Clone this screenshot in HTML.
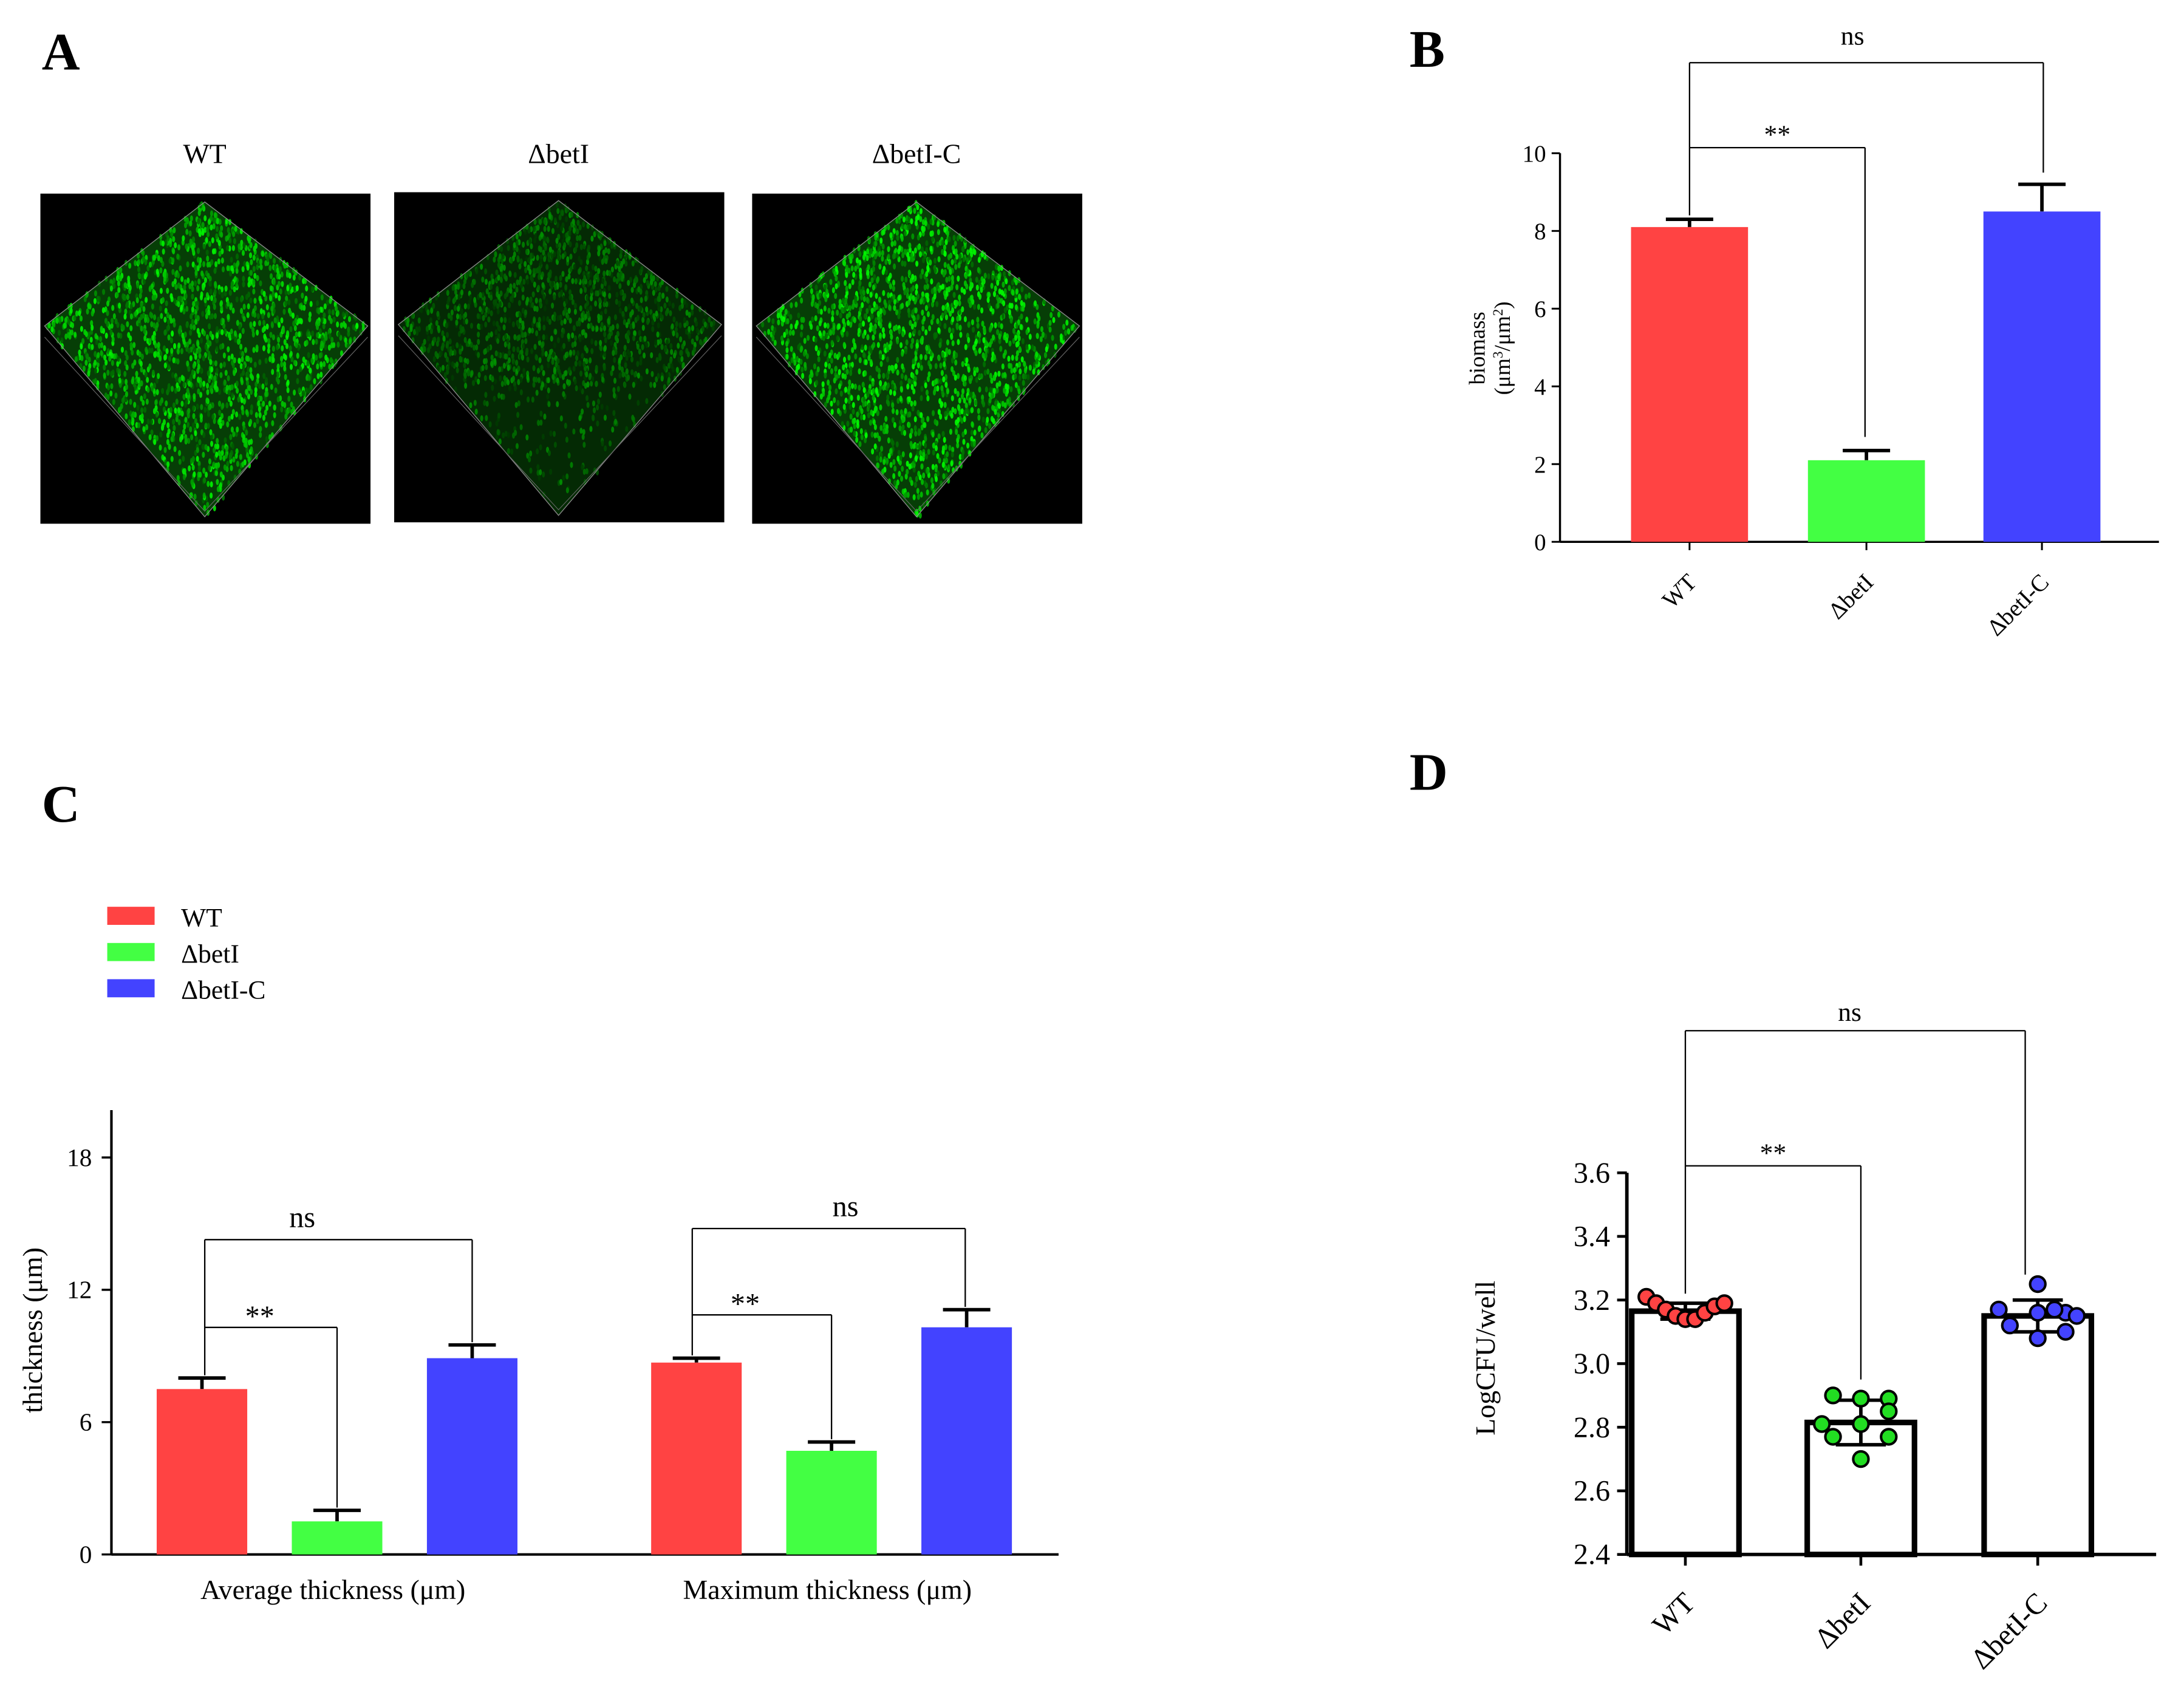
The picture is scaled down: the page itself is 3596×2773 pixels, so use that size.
<!DOCTYPE html>
<html><head><meta charset="utf-8"><style>
html,body{margin:0;padding:0;background:#fff}
svg{display:block}
text{font-family:"Liberation Serif",serif;fill:#000}
</style></head><body>
<svg id="fig" width="3596" height="2773" viewBox="0 0 1568 1209" preserveAspectRatio="none" xmlns="http://www.w3.org/2000/svg">
<rect width="1568" height="1209" fill="#fff"/>
<g id="pA"></g>
<g id="pB"></g>
<g id="pC"></g>
<g id="pD"></g>
</svg>
<script>
// ---- data ----
const groups = ["WT","\u0394betI","\u0394betI-C"];
const colors = ["#ff4343","#43ff43","#4343ff"];
const biomassMean = [8.1, 2.1, 8.5];
const biomassErr = [0.2, 0.25, 0.7];
const biomassTicks = [0,2,4,6,8,10];
const thickCats = ["Average thickness (\u03bcm)","Maximum thickness (\u03bcm)"];
const thickMean = [[7.5,1.5,8.9],[8.7,4.7,10.3]];
const thickErr = [[0.5,0.5,0.6],[0.2,0.4,0.8]];
const thickTicks = [0,6,12,18];
const cfuMean = [3.165, 2.815, 3.15];
const cfuErr = [0.025, 0.07, 0.05];
const cfuPoints = [
 [3.21,3.19,3.17,3.15,3.14,3.14,3.16,3.18,3.19],
 [2.90,2.89,2.89,2.85,2.81,2.81,2.77,2.77,2.70],
 [3.17,3.12,3.25,3.16,3.08,3.10,3.16,3.15,3.17]
];
const cfuTicks = [2.4,2.6,2.8,3.0,3.2,3.4,3.6];

const NS="http://www.w3.org/2000/svg";
function el(parent,tag,attrs,txt){const e=document.createElementNS(NS,tag);for(const k in attrs)e.setAttribute(k,attrs[k]);if(txt!==undefined)e.textContent=txt;parent.appendChild(e);return e;}
function ln(p,x1,y1,x2,y2,w,name){const e=el(p,'line',{x1,y1,x2,y2,stroke:'#000','stroke-width':w||1.3});

return e;}
function tx(p,x,y,s,size,anchor,name,extra){const e=el(p,'text',Object.assign({x,y,'font-size':size,'text-anchor':anchor||'middle'},extra||{}),s);

return e;}

// ---- Panel A ----
const A=document.getElementById('pA');
tx(A,30,50,"A",38,'start','panel-a-label',{'font-weight':'bold'});
const imgs=[[29,139],[283,138],[540,139]];
const bright=[1,0.6,1.08];
let seed=7;function rnd(){seed=(seed*16807)%2147483647;return seed/2147483647;}
imgs.forEach((p,i)=>{
  const g=el(A,'g',{});
  
  
  tx(A,p[0]+118,117,groups[i],20,'middle','image-title-'+(i+1));
  el(g,'rect',{x:p[0],y:p[1],width:237,height:237,fill:'#000'});
  const cx=p[0]+118,top=p[1]+6,bot=p[1]+232,l=p[0]+3,r=p[0]+235,mid=p[1]+95;
  const pts=`${cx},${top} ${r},${mid} ${cx},${bot} ${l},${mid}`;
  el(g,'polygon',{points:pts,fill:i==1?'#042a04':'#063e06'});
  const b=bright[i];
  for(let k=0;k<1800;k++){
    const u=rnd(),v=rnd();
    const x=cx+u*(r-cx)+v*(l-cx);
    const y=top+u*(mid-top)+v*(mid-top)+ (u*v)*0 ;
    // map into diamond: top->(r,mid)->(bot) ; use bilinear
    const yy=top+(u+v)*(bot-top)/2 + (u-v)*((mid-top)-(bot-top)/2)*0;
    const yb=top+u*(mid-top)+v*(mid-top)+u*v*(bot+top-2*mid);
    if(i==1 && yb>p[1]+140 && rnd()<0.7) continue;
    const gg=Math.floor(Math.min(255,(90+rnd()*160)*b));
    el(g,'ellipse',{cx:x,cy:yb,rx:1.1,ry:2.2,fill:`rgb(0,${gg},0)`,opacity:0.9});
  }
  el(g,'polygon',{points:pts,fill:'none',stroke:'#888','stroke-width':0.6});
  el(g,'polyline',{points:`${l},${mid+8} ${cx},${bot-4} ${r},${mid+8}`,fill:'none',stroke:'#666','stroke-width':0.5});
});

// ---- Panel B ----
const B=document.getElementById('pB');
tx(B,1012,48,"B",38,'start','panel-b-label',{'font-weight':'bold'});
const bx0=1120,by0=389,by1=110;const bY=v=>by0-(by0-by1)*v/10;
const bCenters=[1213,1340,1466],bw=84;
ln(B,bx0,by0,1550,by0,1.5,'x-axis');ln(B,bx0,by1,bx0,by0,1.5,'y-axis');
biomassTicks.forEach(v=>{ln(B,bx0-6,bY(v),bx0,bY(v),1.3,'y-tick');tx(B,bx0-10,bY(v)+6,String(v),17,'end','y-tick-label');});
biomassMean.forEach((m,i)=>{
  const c=bCenters[i];
  ln(B,c,bY(m),c,bY(m+biomassErr[i]),2.5,'error-bar');ln(B,c-17,bY(m+biomassErr[i]),c+17,bY(m+biomassErr[i]),2.5,'error-cap');
  const r=el(B,'rect',{x:c-bw/2,y:bY(m),width:bw,height:by0-bY(m),fill:colors[i]});
  
  
  ln(B,c,by0,c,by0+6,1.3,'x-tick');
  tx(B,c+6,by0+30,groups[i],17,'end','x-tick-label',{transform:`rotate(-45 ${c+6} ${by0+30})`});
});
ln(B,1213,45,1467,45,1,'bracket-ns');ln(B,1213,45,1213,bY(8.4),1,'bracket-ns');ln(B,1467,45,1467,bY(9.5),1,'bracket-ns');
tx(B,1330,32,"ns",19,'middle','sig-ns');
ln(B,1213,106,1339,106,1,'bracket-star');ln(B,1339,106,1339,bY(2.7),1,'bracket-star');
tx(B,1276,103,"**",19,'middle','sig-star');
let t=tx(B,1066,250,"",16,'middle','y-axis-title',{transform:'rotate(-90 1066 250)'});
el(t,'tspan',{x:1066,y:250},'biomass');
const t2=el(t,'tspan',{x:1066,dy:18},'(\u03bcm');el(t2,'tspan',{'baseline-shift':'super','font-size':10},'3');
t2.appendChild(document.createTextNode('/\u03bcm'));el(t2,'tspan',{'baseline-shift':'super','font-size':10},'2');
t2.appendChild(document.createTextNode(')'));

// ---- Panel C ----
const C=document.getElementById('pC');
tx(C,30,590,"C",38,'start','panel-c-label',{'font-weight':'bold'});
groups.forEach((g,i)=>{
  const r=el(C,'rect',{x:77,y:651+i*26,width:34,height:13,fill:colors[i]});
  
  
  tx(C,130,665+i*26,g,19,'start','legend-entry-'+(i+1));
});
const cx0=80,cy0=1116,cy18=831;const cY=v=>cy0-(cy0-cy18)*v/18;
ln(C,cx0,cy0,760,cy0,1.8,'x-axis');ln(C,cx0,797,cx0,cy0,1.8,'y-axis');
thickTicks.forEach(v=>{ln(C,cx0-7,cY(v),cx0,cY(v),1.5,'y-tick');tx(C,cx0-14,cY(v)+6,String(v),18,'end','y-tick-label');});
const cCent=[[145,242,339],[500,597,694]],cw=65;
thickMean.forEach((grp,gi)=>{
  grp.forEach((m,i)=>{
    const c=cCent[gi][i],e=m+thickErr[gi][i];
    ln(C,c,cY(m),c,cY(e),2.5,'error-bar');ln(C,c-17,cY(e),c+17,cY(e),2.5,'error-cap');
    const r=el(C,'rect',{x:c-cw/2,y:cY(m),width:cw,height:cy0-cY(m),fill:colors[i]});
    
    
  });
  tx(C,cCent[gi][1]-3,1148,thickCats[gi],20,'middle','x-category-label');
});
[[890,953,147,339,242],[882,944,497,693,597]].forEach((b,gi)=>{
  const m=thickMean[gi],e=thickErr[gi];
  ln(C,b[2],b[0],b[3],b[0],1,'bracket-ns');ln(C,b[2],b[0],b[2],cY(m[0]+e[0])-2,1,'bracket-ns');ln(C,b[3],b[0],b[3],cY(m[2]+e[2])-2,1,'bracket-ns');
  tx(C,(b[2]+b[3])/2+(gi?12:-26),b[0]-9,"ns",21,'middle','sig-ns');
  ln(C,b[2],b[1],b[4],b[1],1,'bracket-star');ln(C,b[4],b[1],b[4],cY(m[1]+e[1])-2,1,'bracket-star');
  tx(C,(b[2]+b[4])/2-(gi?12:8),b[1]-1,"**",21,'middle','sig-star');
});
tx(C,30,955,"thickness (\u03bcm)",20,'middle','y-axis-title',{transform:'rotate(-90 30 955)'});

// ---- Panel D ----
const D=document.getElementById('pD');
tx(D,1012,567,"D",38,'start','panel-d-label',{'font-weight':'bold'});
const dx0=1168,dy0=1116,dy1=842;const dY=v=>dy0-(dy0-dy1)*(v-2.4)/1.2;
ln(D,dx0,dy0,1548,dy0,2.5,'x-axis');ln(D,dx0,dy1,dx0,dy0,2.5,'y-axis');
cfuTicks.forEach(v=>{ln(D,dx0-7,dY(v),dx0,dY(v),2,'y-tick');tx(D,dx0-12,dY(v)+7,v.toFixed(1),21,'end','y-tick-label');});
const dCent=[1210,1336,1463],dw=77;
const offs=[-28,-21,-14,-7,0,7,14,21,28];
cfuMean.forEach((m,i)=>{
  const c=dCent[i];
  const r=el(D,'rect',{x:c-dw/2,y:dY(m),width:dw,height:dy0-dY(m),fill:'#fff',stroke:'#000','stroke-width':4});
  
  
  ln(D,c,dY(m-cfuErr[i]),c,dY(m+cfuErr[i]),2.5,'error-bar');
  ln(D,c-18,dY(m+cfuErr[i]),c+18,dY(m+cfuErr[i]),2.5,'error-cap');
  ln(D,c-18,dY(m-cfuErr[i]),c+18,dY(m-cfuErr[i]),2.5,'error-cap');
  cfuPoints[i].forEach((v,k)=>{
    const xo=i==0?offs[k]:(i==1?[-20,0,20,20,-28,0,-20,20,0][k]:[-28,-20,0,0,0,20,20,28,12][k]);
    const p=el(D,'circle',{cx:c+xo,cy:dY(v),r:5.5,fill:i==1?'#22dd22':colors[i],stroke:'#000','stroke-width':1.8});
    
    
  });
  ln(D,c,dy0,c,dy0+8,2,'x-tick');
  tx(D,c+8,dy0+36,groups[i],21,'end','x-tick-label',{transform:`rotate(-45 ${c+8} ${dy0+36})`});
});
ln(D,1210,740,1454,740,1,'bracket-ns');ln(D,1210,740,1210,dY(3.22),1,'bracket-ns');ln(D,1454,740,1454,dY(3.28),1,'bracket-ns');
tx(D,1328,733,"ns",19,'middle','sig-ns');
ln(D,1210,837,1336,837,1,'bracket-star');ln(D,1336,837,1336,dY(2.95),1,'bracket-star');
tx(D,1273,834,"**",19,'middle','sig-star');
tx(D,1073,975,"LogCFU/well",20,'middle','y-axis-title',{transform:'rotate(-90 1073 975)'});
</script>
</body></html>
